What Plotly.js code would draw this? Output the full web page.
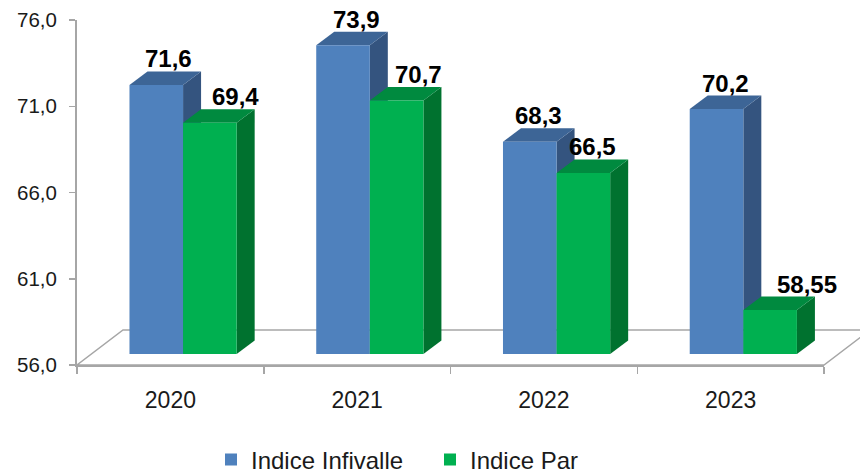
<!DOCTYPE html>
<html><head><meta charset="utf-8">
<script src="https://cdn.plot.ly/plotly-3.0.1.min.js"></script>
<style>html,body{margin:0;padding:0;background:#fff}</style>
</head><body><div id="chart" style="width:860px;height:474px"></div>
<script>
// ---- data ----
const years = ['2020', '2021', '2022', '2023'];
const indiceInfivalle = [71.6, 73.9, 68.3, 70.2];
const indicePar = [69.4, 70.7, 66.5, 58.55];
const labelsInfivalle = ['71,6', '73,9', '68,3', '70,2'];
const labelsPar = ['69,4', '70,7', '66,5', '58,55'];
const yTickVals = [56, 61, 66, 71, 76];
const yTickText = ['56,0', '61,0', '66,0', '71,0', '76,0'];
const seriesNames = ['Indice Infivalle', 'Indice Par'];

// ---- style / geometry ----
const W = 860, H = 474;
const plotL = 77, plotR = 824, plotT = 20, plotB = 365;
const yMin = 56, yMax = 76, BASE = 56;
const pxPerCat = (plotR - plotL) / years.length;
const pxPerUnit = (plotB - plotT) / (yMax - yMin);
const liftPx = 11;                    // bars stand back from the floor's front edge
const yRangeBars = [yMin - liftPx / pxPerUnit, yMax - liftPx / pxPerUnit];
const depthX = 18 / pxPerCat, depthY = 13.5 / pxPerUnit;
const barW = 0.287, offBlue = -0.219, offGreen = offBlue + barW;
const colBlue = {front: '#4f81bd', top: '#3d6596', side: '#34547f'};
const colGreen = {front: '#00b050', top: '#008a3f', side: '#00722f'};
const labShiftBlue = [3, 4, 0, 0];
const labShiftGreen = [17, 13, 0, 28];
const gray = '#a6a6a6';
const FONT = 'Liberation Sans, Arial, sans-serif';

const idx = years.map((_, i) => i);

function faces(vals, off, col) {
  const out = [];
  vals.forEach((v, i) => {
    const l = i + off, r = l + barW;
    out.push({type: 'path', xref: 'x', yref: 'y', layer: 'below',
      path: `M${r},${BASE} L${r + depthX},${BASE + depthY} L${r + depthX},${v + depthY} L${r},${v} Z`,
      fillcolor: col.side, line: {width: 0}});
    out.push({type: 'path', xref: 'x', yref: 'y', layer: 'below',
      path: `M${l},${v} L${r},${v} L${r + depthX},${v + depthY} L${l + depthX},${v + depthY} Z`,
      fillcolor: col.top, line: {width: 0}});
  });
  return out;
}

const fx = v => (v - plotL) / (plotR - plotL);
const fy = v => (plotB - v) / (plotB - plotT);
const floorDX = 46, floorDY = 35;
const floor = {type: 'path', xref: 'paper', yref: 'paper', layer: 'below',
  path: `M${fx(plotL)},${fy(plotB)} L${fx(plotR)},${fy(plotB)} L${fx(plotR + floorDX)},${fy(plotB - floorDY)} L${fx(plotL + floorDX)},${fy(plotB - floorDY)} Z`,
  fillcolor: 'rgba(0,0,0,0)', line: {color: gray, width: 1.5}};

const shapes = [floor].concat(faces(indiceInfivalle, offBlue, colBlue), faces(indicePar, offGreen, colGreen));

function labels(vals, texts, off, shifts) {
  return vals.map((v, i) => ({
    x: i + off + barW / 2 + depthX / 2, y: v + depthY, xref: 'x', yref: 'y',
    text: texts[i], showarrow: false, yanchor: 'bottom', xanchor: 'center',
    xshift: shifts[i], yshift: -3,
    font: {family: FONT, size: 24, color: '#000', weight: 'bold'}
  }));
}
const annotations = labels(indiceInfivalle, labelsInfivalle, offBlue, labShiftBlue)
  .concat(labels(indicePar, labelsPar, offGreen, labShiftGreen));

const traces = [
  {type: 'bar', name: seriesNames[0], x: idx, y: indiceInfivalle.map(v => v - BASE), base: BASE,
   offset: offBlue, width: barW, marker: {color: colBlue.front, line: {width: 0}}, hoverinfo: 'skip'},
  {type: 'bar', name: seriesNames[1], x: idx, y: indicePar.map(v => v - BASE), base: BASE,
   offset: offGreen, width: barW, marker: {color: colGreen.front, line: {width: 0}}, hoverinfo: 'skip'},
  {type: 'scatter', x: [null], y: [null], yaxis: 'y2', showlegend: false, hoverinfo: 'skip'}
];

const layout = {
  width: W, height: H,
  margin: {l: plotL, r: W - plotR, t: plotT, b: H - plotB, pad: 0, autoexpand: false},
  paper_bgcolor: '#fff', plot_bgcolor: 'rgba(0,0,0,0)',
  barmode: 'overlay',
  font: {family: FONT, color: '#1a1a1a'},
  xaxis: {type: 'linear', range: [-0.5, years.length - 0.5], tickmode: 'array', tickvals: idx, ticktext: years,
    ticks: '', showline: true, linecolor: gray, linewidth: 1.5, showgrid: false, zeroline: false,
    tickfont: {size: 23, color: '#1a1a1a', family: FONT}, ticklabelstandoff: 14, automargin: false,
    minor: {tick0: -0.5, dtick: 1, ticks: 'outside', ticklen: 7, tickwidth: 1.5, tickcolor: gray, showgrid: false}},
  yaxis: {range: yRangeBars, visible: false, fixedrange: true, automargin: false},
  yaxis2: {overlaying: 'y', anchor: 'x', side: 'left', range: [yMin, yMax], tickmode: 'array',
    tickvals: yTickVals, ticktext: yTickText, ticks: 'outside', ticklen: 6, tickwidth: 1.5, tickcolor: gray,
    showline: true, linecolor: gray, linewidth: 2, showgrid: false, zeroline: false, automargin: false,
    tickfont: {size: 20.5, color: '#1a1a1a', family: FONT}, ticklabelstandoff: 8},
  showlegend: true,
  legend: {orientation: 'h', x: fx(211), xanchor: 'left', y: fy(460), yanchor: 'middle',
    entrywidth: 174, entrywidthmode: 'pixels',
    font: {size: 24, color: '#1a1a1a', family: FONT}, traceorder: 'normal', bgcolor: 'rgba(0,0,0,0)'},
  shapes: shapes,
  annotations: annotations
};

Plotly.newPlot('chart', traces, layout, {displayModeBar: false, staticPlot: true});
</script>
</body></html>
